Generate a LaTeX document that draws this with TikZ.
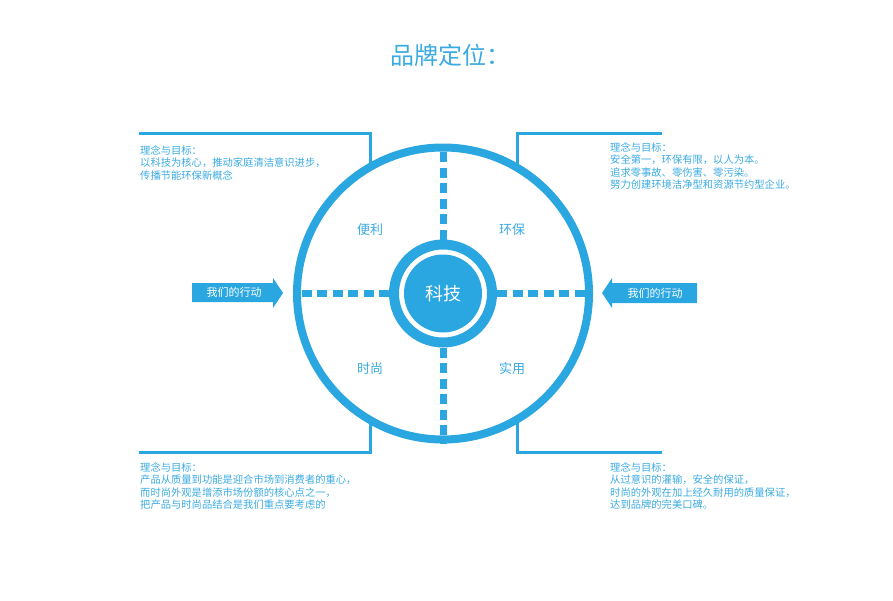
\documentclass[tikz,border=0pt]{standalone}
\usepackage{fontspec}
\setmainfont{Noto Sans CJK SC}
\definecolor{brand}{HTML}{2AA6E0}
\definecolor{brandtext}{HTML}{3AAAE2}
\begin{document}
\begin{tikzpicture}[x=1pt,y=-1pt,
  bracket/.style={draw=brand,line width=3pt},
  dashline/.style={draw=brand,line width=7pt,dash pattern=on 10pt off 5.5pt},
  note/.style={anchor=north west,inner sep=0pt,align=left,text=brandtext,font=\fontsize{10.3}{12.5}\selectfont},
  quad/.style={text=brandtext,font=\fontsize{13}{15}\selectfont},
  arrowlabel/.style={text=white,font=\fontsize{11}{13}\selectfont}]
\useasboundingbox (0,0) rectangle (893,600);
% title
\node[anchor=west,inner sep=0pt,text=brandtext,font=\fontsize{24}{28}\selectfont] (title) at (390,55) {品牌定位：};
% brackets
\draw[bracket] (139,133) -| (370,167);
\draw[bracket] (139,452) -| (370,420);
\draw[bracket] (662,133) -| (517,167);
\draw[bracket] (662,452) -| (517,420);
% circles
\node[circle,draw=brand,line width=8pt,minimum size=292pt,inner sep=0pt] (outer) at (443,293.5) {};
\node[circle,draw=brand,line width=10pt,minimum size=98pt,inner sep=0pt] (ring) at (443,293.5) {};
\node[circle,fill=brand,minimum size=78pt,inner sep=0pt,text=white,font=\fontsize{18}{20}\selectfont] (core) at (443,293.5) {科技};
% dashed spokes
\draw[dashline] (ring.north) -- (outer.north);
\draw[dashline] (ring.south) -- (outer.south);
\draw[dashline] (ring.west) -- (outer.west);
\draw[dashline] (ring.east) -- (outer.east);
% quadrant labels
\node[quad] (q1) at (370,230) {便利};
\node[quad] (q2) at (512,230) {环保};
\node[quad] (q3) at (370,369) {时尚};
\node[quad] (q4) at (512,369) {实用};
% arrows
\fill[brand] (192,283) -- (273,283) -- (273,278) -- (283,293) -- (273,308) -- (273,302) -- (192,302) -- cycle;
\node[arrowlabel] (al) at (234,292.5) {我们的行动};
\fill[brand] (697,283) -- (612,283) -- (612,278) -- (602,293) -- (612,308) -- (612,303) -- (697,303) -- cycle;
\node[arrowlabel] (ar) at (655,293) {我们的行动};
% notes
\node[note] (n1) at (140,145) {理念与目标：\\以科技为核心，推动家庭清洁意识进步，\\传播节能环保新概念};
\node[note] (n2) at (610,142) {理念与目标：\\安全第一，环保有限，以人为本。\\追求零事故、零伤害、零污染。\\努力创建环境洁净型和资源节约型企业。};
\node[note] (n3) at (140,462) {理念与目标：\\产品从质量到功能是迎合市场到消费者的重心，\\而时尚外观是增添市场份额的核心点之一，\\把产品与时尚品结合是我们重点要考虑的};
\node[note] (n4) at (610,462) {理念与目标：\\从过意识的灌输，安全的保证，\\时尚的外观在加上经久耐用的质量保证，\\达到品牌的完美口碑。};
\end{tikzpicture}
\end{document}
